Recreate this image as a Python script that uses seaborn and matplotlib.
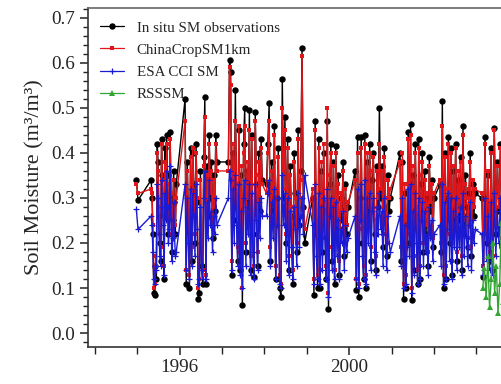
import numpy as np
import pandas as pd
import matplotlib
matplotlib.use("Agg")
import matplotlib.pyplot as plt
import seaborn as sns
from matplotlib.ticker import MultipleLocator, FixedLocator, FormatStrFormatter

# ---------------- data ----------------
seasons = [(1995.33, 1995.92), (1996.13, 1996.88), (1997.15, 1997.95),
           (1998.05, 1998.95), (1999.14, 1999.97), (2000.14, 2000.97),
           (2001.20, 2002.00), (2002.14, 2002.97), (2003.13, 2003.75)]

pre_dates = [1994.98, 1995.02]
obs_pre = [0.34, 0.295]
crop_pre = [0.33, 0.31]
esa_pre = [0.275, 0.23]

obs_vals = [
    [0.34, 0.30, 0.22, 0.09, 0.085, 0.15, 0.12, 0.42, 0.38, 0.26, 0.20, 0.16, 0.43, 0.35, 0.28, 0.12, 0.41, 0.30, 0.44, 0.35, 0.22, 0.27, 0.447, 0.30, 0.18, 0.25, 0.36, 0.29, 0.22, 0.33],
    [0.52, 0.11, 0.38, 0.25, 0.10, 0.41, 0.16, 0.40, 0.33, 0.20, 0.42, 0.29, 0.075, 0.09, 0.36, 0.15, 0.11, 0.39, 0.525, 0.11, 0.37, 0.26, 0.44, 0.30, 0.38, 0.21, 0.35, 0.27, 0.44, 0.38],
    [0.38, 0.607, 0.58, 0.13, 0.40, 0.25, 0.54, 0.30, 0.16, 0.45, 0.14, 0.35, 0.062, 0.42, 0.50, 0.18, 0.36, 0.28, 0.495, 0.14, 0.44, 0.22, 0.125, 0.49, 0.33, 0.15, 0.40, 0.27, 0.43, 0.34],
    [0.33, 0.42, 0.51, 0.16, 0.38, 0.27, 0.46, 0.12, 0.30, 0.41, 0.10, 0.08, 0.565, 0.30, 0.48, 0.20, 0.43, 0.14, 0.37, 0.26, 0.11, 0.40, 0.31, 0.18, 0.45, 0.24, 0.36, 0.633, 0.28, 0.20],
    [0.30, 0.085, 0.47, 0.22, 0.10, 0.43, 0.10, 0.36, 0.18, 0.40, 0.27, 0.12, 0.47, 0.053, 0.33, 0.42, 0.16, 0.38, 0.11, 0.415, 0.21, 0.35, 0.13, 0.30, 0.25, 0.38, 0.17, 0.33, 0.22, 0.28],
    [0.36, 0.095, 0.435, 0.08, 0.30, 0.435, 0.20, 0.12, 0.44, 0.10, 0.38, 0.25, 0.42, 0.16, 0.34, 0.40, 0.22, 0.14, 0.37, 0.28, 0.50, 0.30, 0.37, 0.19, 0.41, 0.28, 0.17, 0.35, 0.27, 0.30],
    [0.40, 0.16, 0.38, 0.075, 0.31, 0.10, 0.24, 0.447, 0.20, 0.465, 0.073, 0.35, 0.14, 0.42, 0.26, 0.11, 0.43, 0.12, 0.33, 0.40, 0.18, 0.36, 0.22, 0.30, 0.15, 0.39, 0.27, 0.34, 0.19, 0.30],
    [0.33, 0.18, 0.515, 0.10, 0.40, 0.12, 0.30, 0.435, 0.20, 0.41, 0.13, 0.36, 0.24, 0.42, 0.16, 0.34, 0.25, 0.39, 0.14, 0.46, 0.22, 0.35, 0.28, 0.19, 0.31, 0.40, 0.17, 0.33, 0.26, 0.31],
    [0.30, 0.125, 0.435, 0.20, 0.35, 0.16, 0.41, 0.14, 0.455, 0.22, 0.38, 0.27, 0.42, 0.19, 0.33, 0.25, 0.40, 0.30],
]
crop_vals = [
    [0.32, 0.31, 0.24, 0.10, 0.11, 0.17, 0.15, 0.40, 0.36, 0.28, 0.22, 0.19, 0.42, 0.34, 0.30, 0.15, 0.38, 0.31, 0.42, 0.33, 0.25, 0.28, 0.43, 0.31, 0.22, 0.27, 0.34, 0.27, 0.24, 0.30],
    [0.47, 0.14, 0.36, 0.27, 0.13, 0.39, 0.19, 0.41, 0.31, 0.22, 0.40, 0.30, 0.10, 0.12, 0.34, 0.18, 0.14, 0.37, 0.48, 0.13, 0.35, 0.28, 0.42, 0.31, 0.36, 0.23, 0.34, 0.28, 0.42, 0.36],
    [0.36, 0.59, 0.55, 0.16, 0.42, 0.28, 0.47, 0.33, 0.19, 0.46, 0.18, 0.37, 0.10, 0.40, 0.46, 0.20, 0.38, 0.30, 0.45, 0.17, 0.43, 0.25, 0.15, 0.47, 0.35, 0.18, 0.38, 0.29, 0.41, 0.33],
    [0.31, 0.40, 0.47, 0.19, 0.36, 0.29, 0.44, 0.15, 0.32, 0.39, 0.13, 0.11, 0.50, 0.32, 0.45, 0.22, 0.41, 0.17, 0.35, 0.28, 0.14, 0.38, 0.30, 0.20, 0.43, 0.26, 0.34, 0.615, 0.30, 0.23],
    [0.32, 0.12, 0.45, 0.25, 0.13, 0.41, 0.14, 0.38, 0.21, 0.42, 0.29, 0.15, 0.50, 0.09, 0.35, 0.40, 0.19, 0.37, 0.14, 0.40, 0.24, 0.33, 0.16, 0.31, 0.27, 0.36, 0.20, 0.32, 0.24, 0.29],
    [0.34, 0.12, 0.40, 0.11, 0.32, 0.41, 0.23, 0.15, 0.42, 0.13, 0.40, 0.28, 0.40, 0.19, 0.36, 0.39, 0.25, 0.17, 0.36, 0.30, 0.42, 0.32, 0.36, 0.22, 0.39, 0.30, 0.20, 0.34, 0.30, 0.32],
    [0.38, 0.19, 0.40, 0.11, 0.33, 0.13, 0.26, 0.43, 0.22, 0.44, 0.10, 0.37, 0.17, 0.40, 0.28, 0.14, 0.41, 0.15, 0.35, 0.38, 0.20, 0.34, 0.24, 0.31, 0.18, 0.37, 0.29, 0.33, 0.21, 0.31],
    [0.34, 0.20, 0.46, 0.13, 0.39, 0.15, 0.32, 0.42, 0.22, 0.40, 0.16, 0.37, 0.26, 0.41, 0.18, 0.36, 0.27, 0.38, 0.17, 0.44, 0.25, 0.33, 0.30, 0.21, 0.32, 0.38, 0.19, 0.34, 0.28, 0.32],
    [0.31, 0.15, 0.42, 0.22, 0.36, 0.18, 0.40, 0.17, 0.45, 0.24, 0.37, 0.28, 0.41, 0.21, 0.34, 0.27, 0.39, 0.31],
]
esa_vals = [
    [0.26, 0.24, 0.18, 0.12, 0.11, 0.15, 0.14, 0.33, 0.30, 0.22, 0.17, 0.15, 0.34, 0.28, 0.24, 0.13, 0.31, 0.25, 0.36, 0.28, 0.20, 0.23, 0.37, 0.25, 0.16, 0.21, 0.29, 0.22, 0.17, 0.18],
    [0.33, 0.14, 0.30, 0.20, 0.12, 0.32, 0.15, 0.31, 0.26, 0.17, 0.33, 0.23, 0.11, 0.12, 0.28, 0.14, 0.12, 0.30, 0.36, 0.12, 0.29, 0.21, 0.34, 0.24, 0.27, 0.18, 0.26, 0.22, 0.30, 0.24],
    [0.30, 0.36, 0.34, 0.14, 0.32, 0.20, 0.35, 0.24, 0.15, 0.33, 0.13, 0.27, 0.10, 0.30, 0.34, 0.15, 0.28, 0.22, 0.33, 0.13, 0.31, 0.18, 0.12, 0.33, 0.25, 0.14, 0.29, 0.21, 0.30, 0.26],
    [0.26, 0.31, 0.34, 0.15, 0.29, 0.21, 0.32, 0.12, 0.24, 0.30, 0.11, 0.10, 0.35, 0.24, 0.31, 0.16, 0.30, 0.13, 0.27, 0.19, 0.12, 0.28, 0.23, 0.15, 0.31, 0.19, 0.26, 0.30, 0.22, 0.35],
    [0.24, 0.11, 0.33, 0.17, 0.12, 0.31, 0.11, 0.28, 0.14, 0.30, 0.21, 0.12, 0.32, 0.08, 0.26, 0.30, 0.14, 0.28, 0.12, 0.29, 0.17, 0.25, 0.12, 0.23, 0.20, 0.27, 0.14, 0.24, 0.18, 0.21],
    [0.26, 0.12, 0.32, 0.10, 0.25, 0.33, 0.17, 0.12, 0.34, 0.11, 0.30, 0.20, 0.31, 0.14, 0.27, 0.30, 0.18, 0.13, 0.28, 0.22, 0.31, 0.23, 0.27, 0.15, 0.30, 0.22, 0.14, 0.26, 0.20, 0.18],
    [0.26, 0.15, 0.30, 0.10, 0.24, 0.11, 0.19, 0.32, 0.17, 0.33, 0.09, 0.27, 0.13, 0.31, 0.20, 0.11, 0.30, 0.12, 0.25, 0.29, 0.15, 0.27, 0.18, 0.22, 0.13, 0.28, 0.21, 0.25, 0.16, 0.22],
    [0.24, 0.15, 0.33, 0.11, 0.29, 0.12, 0.23, 0.31, 0.16, 0.30, 0.12, 0.27, 0.19, 0.30, 0.14, 0.26, 0.19, 0.28, 0.13, 0.31, 0.17, 0.26, 0.21, 0.15, 0.24, 0.29, 0.14, 0.25, 0.20, 0.23],
    [0.22, 0.13, 0.30, 0.16, 0.26, 0.14, 0.29, 0.13, 0.31, 0.17, 0.27, 0.20, 0.30, 0.15, 0.25, 0.19, 0.28, 0.23],
]
rsssm_season = (2003.15, 2003.75)
rsssm_vals = [0.10, 0.145, 0.08, 0.17, 0.058, 0.12, 0.20, 0.09, 0.15, 0.045, 0.11, 0.245, 0.07, 0.13, 0.18, 0.10]

labels = ["In situ SM observations", "ChinaCropSM1km", "ESA CCI SM", "RSSSM"]
colors = ["#000000", "#e0161b", "#1a1ad2", "#33a532"]


# ---------------- build frames ----------------
def build(pre_x, pre_y, vals):
    xs, ys = list(pre_x), list(pre_y)
    for (a, b), v in zip(seasons, vals):
        xs += list(np.linspace(a, b, len(v)))
        ys += list(v)
    return pd.DataFrame({"year": xs, "sm": ys})


df_obs = build(pre_dates, obs_pre, obs_vals)
df_crop = build(pre_dates, crop_pre, crop_vals)
df_esa = build(pre_dates, esa_pre, esa_vals)
df_rs = pd.DataFrame({"year": np.linspace(rsssm_season[0], rsssm_season[1], len(rsssm_vals)),
                      "sm": rsssm_vals})

# ---------------- style ----------------
sns.set_style("ticks")
plt.rcParams["font.family"] = ["Liberation Serif", "DejaVu Serif"]

W, H = 501, 384
fig = plt.figure(figsize=(W / 100, H / 100), dpi=100)
px_per_year = 42.4
x0 = 1993.84
x1 = 2006.0
ax = fig.add_axes([88 / W, (H - 347) / H, (x1 - x0) * px_per_year / W, (347 - 7.5) / H])

common = dict(ax=ax, x="year", y="sm", estimator=None, sort=False, legend=False)
sns.lineplot(data=df_obs, color=colors[0], marker="o", markersize=4.6, linewidth=1.0,
             markeredgewidth=0, markeredgecolor=colors[0], label=labels[0], **common)
sns.lineplot(data=df_crop, color=colors[1], marker="s", markersize=2.2, linewidth=1.0,
             markeredgewidth=0, markeredgecolor=colors[1], label=labels[1], **common)
sns.lineplot(data=df_esa, color=colors[2], marker="+", markersize=3.8, linewidth=1.0,
             markeredgewidth=0.9, markeredgecolor=colors[2], label=labels[2], **common)
sns.lineplot(data=df_rs, color=colors[3], marker="^", markersize=4.2, linewidth=1.0,
             markeredgewidth=0, markeredgecolor=colors[3], label=labels[3], **common)

ax.set_xlim(x0, x1)
ax.set_ylim(-0.031, 0.723)
ax.xaxis.set_major_locator(FixedLocator([1996, 2000, 2004]))
ax.xaxis.set_minor_locator(MultipleLocator(1))
ax.set_xticklabels(["1996", "2000", "2004"])
ax.yaxis.set_major_locator(MultipleLocator(0.1))
ax.yaxis.set_minor_locator(MultipleLocator(0.02))
ax.yaxis.set_major_formatter(FormatStrFormatter("%.1f"))

ax.tick_params(axis="both", which="major", direction="out", length=6, width=1.1,
               labelsize=13.8, pad=3, color="#222222")
ax.tick_params(axis="both", which="minor", direction="out", length=3.5, width=1.0, color="#222222")
ax.tick_params(axis="x", which="minor", length=5)
ax.set_xlabel("")
ax.set_ylabel("Soil Moisture (m³/m³)", fontsize=16, labelpad=5)

for s in ax.spines.values():
    s.set_linewidth(1.2)
    s.set_color("#333333")
ax.spines["top"].set_color("#666666")

leg = ax.legend(loc="upper left", bbox_to_anchor=(100 / W, 1 - 21 / H), bbox_transform=fig.transFigure,
                frameon=False, fontsize=10.8, handlelength=1.6, handletextpad=0.85,
                labelspacing=0.58, borderpad=0, borderaxespad=0)
for h in leg.legend_handles:
    h.set_linewidth(0.9)

fig.savefig("out.png", dpi=100)
